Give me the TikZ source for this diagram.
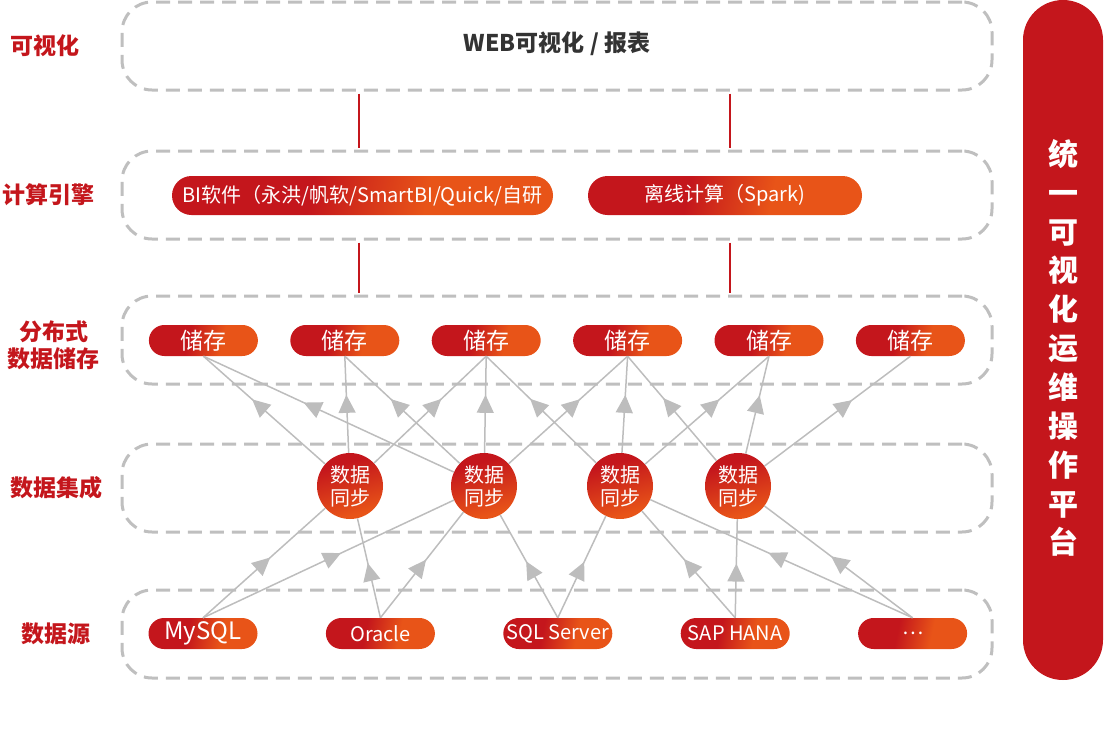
\documentclass[tikz,border=0pt]{standalone}
\usepackage{fontspec}
\setmainfont{Noto Sans CJK SC}
\usepackage{tikz}
\usetikzlibrary{arrows.meta}
\usetikzlibrary{decorations.markings}
\usetikzlibrary{positioning}

\definecolor{redA}{HTML}{C4161C}
\definecolor{orangeA}{HTML}{E85418}
\definecolor{dashC}{HTML}{BFBFBF}
\definecolor{lineC}{HTML}{BDBDBD}
\definecolor{textC}{HTML}{333333}
\pgfdeclarehorizontalshading{pillshade}{100bp}{color(0bp)=(redA); color(42bp)=(redA); color(60bp)=(orangeA); color(100bp)=(orangeA)}
\pgfdeclarehorizontalshading{ballshade}{100bp}{color(0bp)=(redA); color(32bp)=(redA); color(72bp)=(orangeA); color(100bp)=(orangeA)}

\begin{document}
\begin{tikzpicture}[x=1pt, y=-1pt,
    layer/.style={draw=dashC, line width=3pt, dash pattern=on 14pt off 8pt, rounded corners=30pt, minimum width=870pt, minimum height=88pt},
    tag/.style={text=redA, font=\fontsize{23}{27}\selectfont\bfseries, align=center},
    pill/.style={shade, shading=pillshade, shading angle=-12, text=white, inner sep=0pt, rounded corners=15.5pt, minimum height=31pt, minimum width=109pt, font=\fontsize{20}{24}\selectfont},
    ball/.style={circle, shade, shading=ballshade, shading angle=-75, text=white, inner sep=0pt, minimum size=66pt, align=center, font=\fontsize{20}{23}\selectfont},
    link/.style={draw=redA, line width=1.5pt, shorten <=2pt, shorten >=2pt},
    flow/.style={draw=lineC, line width=1.5pt, postaction={decorate}, decoration={markings, mark=at position #1 with {\arrow[color=lineC]{Triangle[length=18pt,width=17pt]}}}},
    flow/.default=0.55]
    \useasboundingbox (0,0) rectangle (1104,734);

    % layers
    \node[layer] (vis) at (557,46) {};
    \node[layer] (calc) at (557,195) {};
    \node[layer] (store) at (557,340) {};
    \node[layer] (integ) at (557,488) {};
    \node[layer] (src) at (557,634) {};

    \node[tag] (t1) at (45,46) {可视化};
    \node[tag] (t2) at (48,195) {计算引擎};
    \node[tag] (t3) at (54,345) {分布式\\数据储存};
    \node[tag] (t4) at (56,488) {数据集成};
    \node[tag] (t5) at (56,634) {数据源};

    \node[text=textC, font=\fontsize{23}{26}\selectfont\bfseries] (web) at (557,44) {WEB可视化 / 报表};

    % compute
    \node[pill, minimum width=381pt, minimum height=39pt, rounded corners=19.5pt] (bi) at (362.5,195.5) {BI软件（永洪/帆软/SmartBI/Quick/自研};
    \node[pill, minimum width=274pt, minimum height=39pt, rounded corners=19.5pt] (spark) at (725,195.5) {离线计算（Spark)};

    \coordinate (lkA) at (359,0);
    \coordinate (lkB) at (730,0);
    \draw[link] (vis.south -| lkA) -- (calc.north -| lkA);
    \draw[link] (calc.south -| lkA) -- (store.north -| lkA);
    \draw[link] (vis.south -| lkB) -- (calc.north -| lkB);
    \draw[link] (calc.south -| lkB) -- (store.north -| lkB);

    % storage
    \foreach \i in {1,...,6}
        \node[pill, font=\fontsize{23}{26}\selectfont] (st\i) at ({62+141.4*\i},340.5) {储存};

    % sync
    \node[ball] (s1) at (350,486) {数据\\同步};
    \node[ball] (s2) at (484,486) {数据\\同步};
    \node[ball] (s3) at (620,486) {数据\\同步};
    \node[ball] (s4) at (738,486) {数据\\同步};

    % sources
    \node[pill, font=\fontsize{24}{28}\selectfont] (mysql) at (203,633.5) {MySQL};
    \node[pill, right=68pt of mysql] (oracle) {Oracle};
    \node[pill, right=68pt of oracle] (sqls) {SQL Server};
    \node[pill, right=68pt of sqls] (hana) {SAP HANA};
    \node[pill, right=68pt of hana] (dots) {…};

    \foreach \a/\b in {s1/st1, s1/st2, s1/st3, s2/st1, s2/st2, s2/st3, s2/st4, s3/st3, s3/st4, s3/st5, s4/st4, s4/st5, s4/st6}
        \draw[flow=0.6] (\a) -- (\b.south);
    \foreach \a/\b in {mysql/s1, mysql/s2, oracle/s1, oracle/s2, sqls/s2, sqls/s3, hana/s3, hana/s4, dots/s3, dots/s4}
        \draw[flow] (\a.north) -- (\b);

    % platform bar
    \node[fill=redA, rounded corners=40pt, minimum width=80pt, minimum height=680pt, inner sep=0pt] (bar) at (1063,340) {};
    \node[text=white, align=center, font=\fontsize{30}{38.85}\selectfont\bfseries] (bartxt) at (1063,348) {统\\一\\可\\视\\化\\运\\维\\操\\作\\平\\台};
\end{tikzpicture}
\end{document}
